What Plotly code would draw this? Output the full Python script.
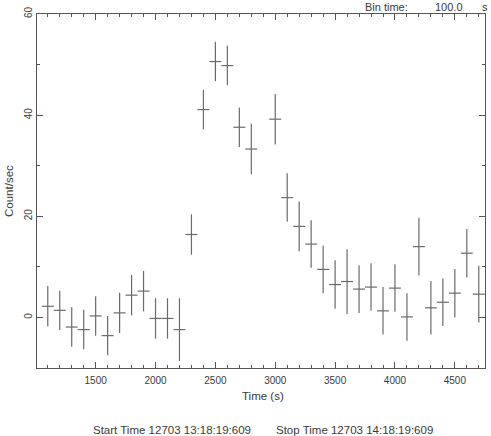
import plotly.graph_objects as go

# Light curve, 100 s bins
bin_time = 100.0
time_s = [1100, 1200, 1300, 1400, 1500, 1600, 1700, 1800, 1900, 2000, 2100, 2200,
          2300, 2400, 2500, 2600, 2700, 2800, 3000, 3100, 3200, 3300, 3400, 3500,
          3600, 3700, 3800, 3900, 4000, 4100, 4200, 4300, 4400, 4500, 4600, 4700]
rate = [2.2, 1.4, -1.9, -2.4, 0.3, -3.6, 0.9, 4.4, 5.2, -0.2, -0.2, -2.4,
        16.4, 41.1, 50.6, 49.8, 37.6, 33.3, 39.2, 23.7, 18.0, 14.5, 9.5, 6.5,
        7.1, 5.6, 6.0, 1.3, 5.8, 0.1, 14.0, 1.9, 3.0, 4.8, 12.7, 4.6]
rate_err = [4.0, 3.9, 3.9, 3.9, 3.9, 3.9, 4.0, 4.0, 4.0, 4.0, 4.0, 6.2,
            4.0, 3.9, 3.9, 3.9, 3.9, 5.0, 5.0, 4.8, 4.9, 4.7, 4.7, 4.8,
            6.4, 4.7, 4.7, 4.7, 4.7, 4.7, 5.7, 5.3, 4.7, 4.8, 4.8, 5.6]
x_ticks = [1500, 2000, 2500, 3000, 3500, 4000, 4500]
y_ticks = [0, 20, 40, 60]

half_bin = [bin_time / 2] * len(time_s)

FONT = "Liberation Sans"
TXT = "#3a3a3a"
BAR = "#6a6a6a"
LINE = "#555555"

W, H = 491, 436
pl, pr, pt, pb = 37, 6, 14, 68
pw, ph = W - pl - pr, H - pt - pb

fig = go.Figure()
fig.add_trace(go.Scatter(
    x=time_s, y=rate, mode="markers",
    marker=dict(size=0.1, color=BAR, opacity=0),
    error_x=dict(type="data", array=half_bin, color=BAR, thickness=1.2, width=0),
    error_y=dict(type="data", array=rate_err, color=BAR, thickness=1.2, width=0),
    hoverinfo="x+y", showlegend=False,
))

axis_common = dict(
    showgrid=False, zeroline=False, showline=True, linecolor=LINE, linewidth=1,
    mirror="ticks", ticks="inside", tickcolor=LINE, tickwidth=1, ticklen=6,
    tickfont=dict(family=FONT, size=10, color=TXT), automargin=False,
)

fig.update_layout(
    width=W, height=H,
    margin=dict(l=pl, r=pr, t=pt, b=pb),
    paper_bgcolor="white", plot_bgcolor="white",
    font=dict(family=FONT, size=11, color=TXT),
    xaxis=dict(range=[1010, 4752], tickvals=x_ticks, ticklabelstandoff=3,
               minor=dict(dtick=100, tick0=1000, ticks="inside", ticklen=3, tickcolor=LINE),
               **axis_common),
    yaxis=dict(range=[-10, 60], tickvals=y_ticks, tickangle=-90,
               minor=dict(dtick=10, tick0=0, ticks="inside", ticklen=3, tickcolor=LINE),
               **axis_common),
)


def px_x(x):
    return (x - pl) / pw


def px_y(y):
    return (H - pb - y) / ph


for txt, x, y, anchor, ang, size in [
    ("Bin time:", 363, 7, "left", 0, 11),
    ("100.0", 433, 7, "left", 0, 11),
    ("s", 485, 7, "center", 0, 11),
    ("Time (s)", 263, 396, "center", 0, 11.5),
    ("Count/sec", 9, 191, "center", -90, 11.5),
    ("Start Time 12703 13:18:19:609", 91, 430, "left", 0, 11.5),
    ("Stop Time 12703 14:18:19:609", 435, 430, "right", 0, 11.5),
]:
    fig.add_annotation(text=txt, x=px_x(x), y=px_y(y), xref="paper", yref="paper",
                       showarrow=False, xanchor=anchor, yanchor="middle", textangle=ang,
                       font=dict(family=FONT, size=size, color=TXT))

fig.write_html("out.html", config={"displayModeBar": False},
               post_script="document.body.style.margin='0';document.body.style.overflow='hidden';")
